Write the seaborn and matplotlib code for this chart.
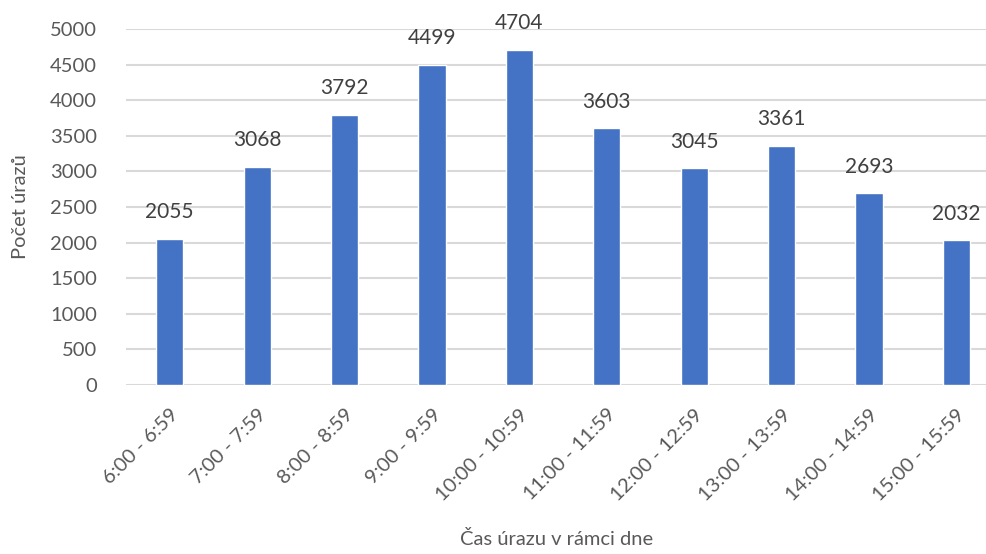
import matplotlib
matplotlib.use("Agg")
import matplotlib.pyplot as plt
import seaborn as sns
import pandas as pd

# Injury counts by hour of the day
categories = ["6:00 - 6:59", "7:00 - 7:59", "8:00 - 8:59", "9:00 - 9:59",
              "10:00 - 10:59", "11:00 - 11:59", "12:00 - 12:59",
              "13:00 - 13:59", "14:00 - 14:59", "15:00 - 15:59"]
counts = [2055, 3068, 3792, 4499, 4704, 3603, 3045, 3361, 2693, 2032]
y_ticks = [0, 500, 1000, 1500, 2000, 2500, 3000, 3500, 4000, 4500, 5000]

df = pd.DataFrame({"cas": categories, "pocet": counts})

sns.set_theme(style="white")
plt.rcParams["font.family"] = ["Lato", "DejaVu Sans"]

fig = plt.figure(figsize=(9.87, 5.54), dpi=100)
ax = fig.add_axes([0.1277, 0.305, 0.8723, 0.6426])

sns.barplot(data=df, x="cas", y="pocet", color="#4472C4", saturation=1,
            width=0.31, ax=ax, zorder=3)

ax.set_ylim(0, 5000)
ax.set_xlim(-0.5, 9.35)
ax.set_yticks(y_ticks)
ax.yaxis.grid(True, color="#D9D9D9", linewidth=1.5, zorder=0)
ax.set_axisbelow(True)
for s in ax.spines.values():
    s.set_visible(False)

text_color = "#595959"
ax.tick_params(axis="both", length=0, labelsize=14.5, colors=text_color)
ax.tick_params(axis="y", pad=21)
ax.tick_params(axis="x", pad=15)
for lbl in ax.get_xticklabels():
    lbl.set_rotation(45)
    lbl.set_ha("right")
    lbl.set_rotation_mode("anchor")

for cont in ax.containers:
    ax.bar_label(cont, labels=[str(v) for v in counts], padding=12,
                 fontsize=15, color="#404040")

ax.set_xlabel("Čas úrazu v rámci dne", fontsize=14.5, color=text_color, labelpad=19)
ax.set_ylabel("Počet úrazů", fontsize=14.5, color=text_color, labelpad=15)

fig.savefig("out.png", dpi=100)
